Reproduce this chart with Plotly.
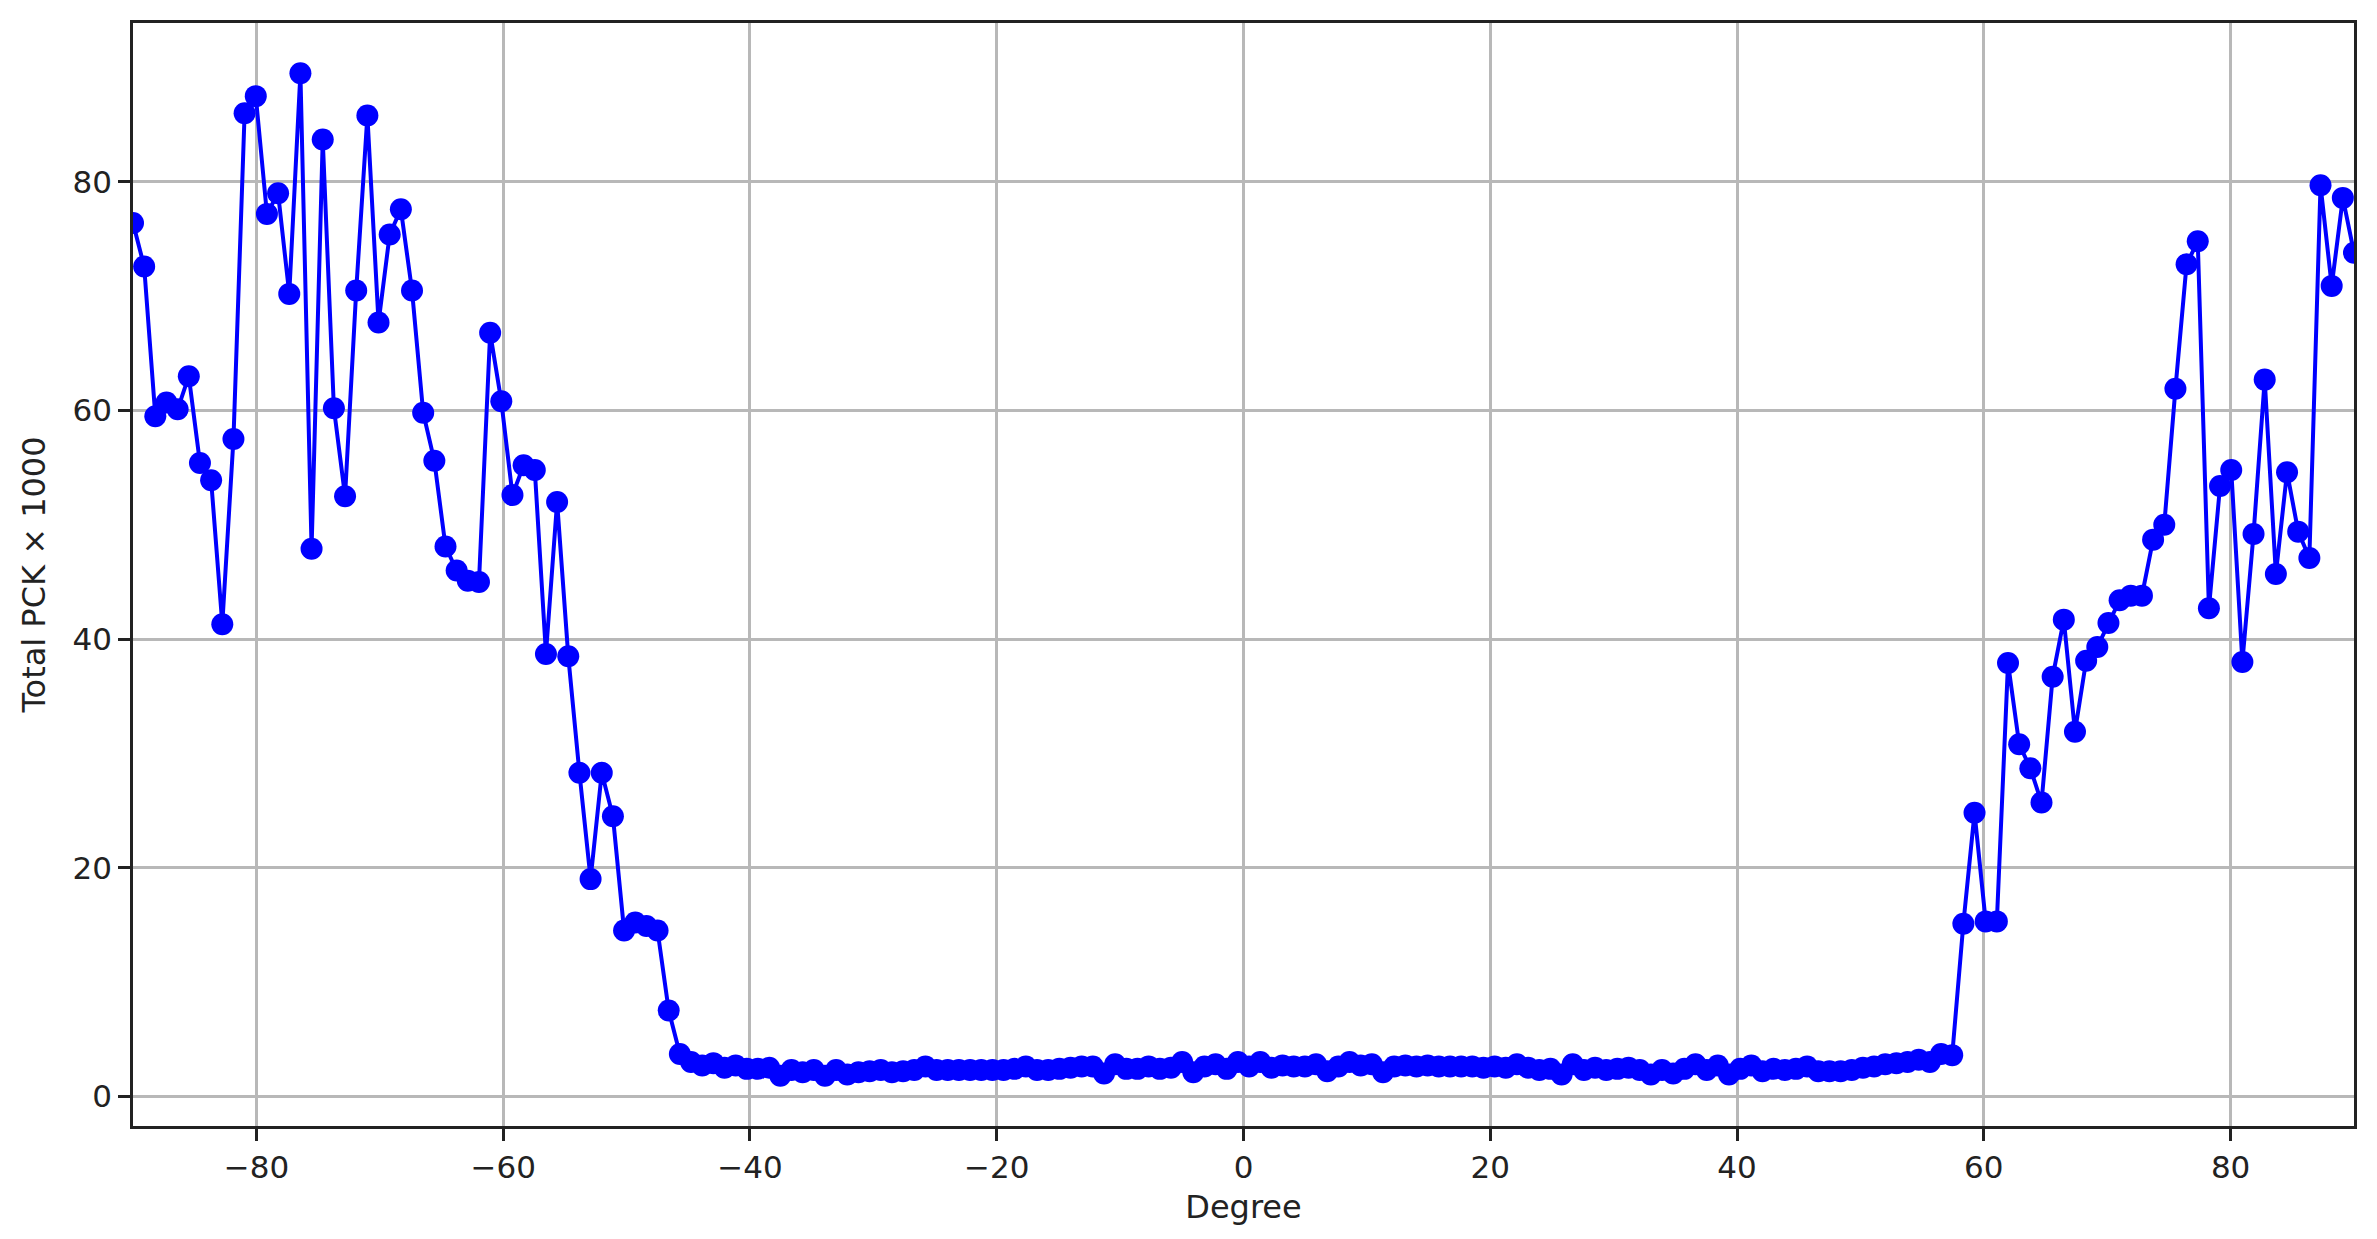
import numpy as np
import plotly.graph_objects as go

# degree grid: 200 evenly spaced samples from -90 to 90
degrees = np.linspace(-90, 90, 200)

pck_left = [
    76.4, 72.6, 59.5, 60.7, 60.1, 63.0, 55.4, 53.9, 41.3, 57.5,
    86.0, 87.5, 77.2, 79.0, 70.2, 89.5, 47.9, 83.7, 60.2, 52.5,
    70.5, 85.8, 67.7, 75.4, 77.6, 70.5, 59.8, 55.6, 48.1, 46.0,
    45.1, 45.0, 66.8, 60.8, 52.6, 55.2, 54.8, 38.7, 52.0, 38.5,
    28.3, 19.0, 28.3, 24.5, 14.5, 15.2, 14.9, 14.5, 7.5, 3.7,
]
pck_middle = [
    3.0, 2.7, 2.9, 2.5, 2.7, 2.4, 2.4, 2.5, 1.8, 2.3,
    2.1, 2.3, 1.8, 2.3, 1.9, 2.1, 2.2, 2.3, 2.1, 2.2,
    2.3, 2.6, 2.3, 2.3, 2.3, 2.3, 2.3, 2.3, 2.3, 2.4,
    2.6, 2.3, 2.3, 2.4, 2.5, 2.6, 2.6, 2.0, 2.8, 2.4,
    2.4, 2.6, 2.4, 2.5, 3.0, 2.1, 2.6, 2.8, 2.4, 3.0,
    2.6, 3.0, 2.5, 2.7, 2.6, 2.6, 2.8, 2.2, 2.6, 3.0,
    2.7, 2.8, 2.1, 2.6, 2.7, 2.6, 2.7, 2.6, 2.6, 2.6,
    2.6, 2.5, 2.6, 2.5, 2.8, 2.5, 2.3, 2.4, 1.9, 2.8,
    2.3, 2.5, 2.3, 2.4, 2.5, 2.3, 1.9, 2.3, 2.0, 2.4,
    2.8, 2.3, 2.7, 1.9, 2.4, 2.7, 2.2, 2.4, 2.3, 2.4,
    2.6, 2.2, 2.2, 2.2, 2.3, 2.5, 2.6, 2.8, 2.9, 3.0,
    3.2, 3.0, 3.7, 3.6,
]
pck_right = [
    15.1, 24.8, 15.3, 15.3, 37.9, 30.8, 28.7, 25.7, 36.7, 41.7,
    31.9, 38.1, 39.3, 41.4, 43.4, 43.8, 43.8, 48.7, 50.0, 61.9,
    72.8, 74.8, 42.7, 53.4, 54.8, 38.0, 49.2, 62.7, 45.7, 54.6,
    49.4, 47.1, 79.7, 70.9, 78.6, 73.8,
]
pck = pck_left + pck_middle + pck_right

fig = go.Figure(
    go.Scatter(
        x=degrees,
        y=pck,
        mode="lines+markers",
        line=dict(color="#0000ff", width=4),
        marker=dict(color="#0000ff", size=22, line=dict(width=0)),
    )
)

axis_style = dict(
    showline=True,
    linecolor="#222222",
    linewidth=2.5,
    mirror=True,
    ticks="outside",
    ticklen=12,
    tickwidth=2.5,
    tickcolor="#222222",
    showgrid=True,
    gridcolor="#b8b8b8",
    gridwidth=2.5,
    zeroline=False,
    tickfont=dict(size=31, color="#222222"),
    title_font=dict(size=32, color="#222222"),
)

fig.update_xaxes(axis_style, range=[-90, 90], dtick=20, title_text="Degree", title_standoff=12)
fig.update_yaxes(axis_style, range=[-2.6, 93.9], tickvals=[0, 20, 40, 60, 80],
                 title_text="Total PCK × 1000", title_standoff=18)

# the page body adds an 8px offset, so margins are shifted to compensate
fig.update_layout(
    width=2377,
    height=1239,
    margin=dict(l=125, r=31, t=13, b=121),
    plot_bgcolor="white",
    paper_bgcolor="white",
    font=dict(family="DejaVu Sans", color="#222222"),
    showlegend=False,
)

fig.write_html("out.html")
